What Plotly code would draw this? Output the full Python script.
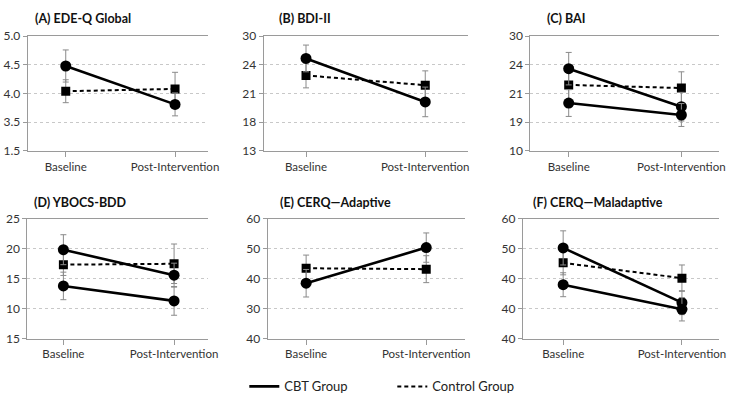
import plotly.graph_objects as go

# ---------------- data ----------------
timepoints = ["Baseline", "Post-Intervention"]

titles = ["(A) EDE-Q Global", "(B) BDI-II", "(C) BAI",
          "(D) YBOCS-BDD", "(E) CERQ\u2014Adaptive", "(F) CERQ\u2014Maladaptive"]

# tick labels as printed (bottom -> top) and the nominal evenly spaced scale they sit on
tick_labels = [
    ["1.5", "3.5", "4.0", "4.5", "5.0"],
    ["13", "18", "21", "24", "30"],
    ["10", "19", "21", "24", "30"],
    ["15", "10", "15", "20", "25"],
    ["40", "30", "40", "50", "60"],
    ["40", "40", "40", "50", "60"],
]
tick_scale = [
    [3.0, 3.5, 4.0, 4.5, 5.0],
    [15, 18, 21, 24, 27],
    [15, 18, 21, 24, 27],
    [5, 10, 15, 20, 25],
    [20, 30, 40, 50, 60],
    [20, 30, 40, 50, 60],
]

# CBT group lines (some panels show two CBT lines)
cbt_means = [
    [[4.48, 3.81]],
    [[24.67, 20.12]],
    [[23.6, 19.62], [20.0, 18.75]],
    [[19.85, 15.6], [13.8, 11.3]],
    [[38.5, 50.4]],
    [[50.3, 32.0], [38.0, 29.8]],
]
cbt_err = [
    [[0.28, 0.20]],
    [[1.40, 1.55]],
    [[1.70, 1.50], [1.40, 1.20]],
    [[2.50, 2.00], [2.30, 2.40]],
    [[4.60, 4.90]],
    [[5.70, 4.00], [4.00, 3.90]],
]
ctrl_means = [
    [4.04, 4.08],
    [22.89, 21.87],
    [21.9, 21.57],
    [17.35, 17.5],
    [43.5, 43.2],
    [45.3, 40.2],
]
ctrl_err = [
    [0.20, 0.29],
    [1.30, 1.50],
    [1.80, 1.70],
    [1.80, 3.30],
    [4.40, 4.50],
    [4.00, 4.40],
]
legend_names = ["CBT Group", "Control Group"]

# ---------------- layout geometry ----------------
x_domains = [(0.0379, 0.2855), (0.3622, 0.6428), (0.7284, 0.9878),
             (0.0375, 0.2855), (0.3677, 0.6383), (0.7181, 0.9878)]
y_domains = [(0.6338, 0.9277)] * 3 + [(0.1523, 0.4593)] * 3
x_ranges = [(-0.349, 1.30), (-0.355, 1.358), (-0.341, 1.335),
            (-0.326, 1.305), (-0.320, 1.320), (-0.340, 1.313)]
title_pos = [(33, 11), (281, 11), (553, 11), (32, 202), (282, 202), (539, 202)]

W, H = 739, 405
FONT = "Lato"
fig = go.Figure()
err_col = "#8a8a8a"
CBT_LINE = dict(color="black", width=2.6)
CTRL_LINE = dict(color="black", width=2, dash="4px,3px")

for i in range(6):
    ax = "" if i == 0 else str(i + 1)
    xa, ya = "x" + ax, "y" + ax
    fig.add_trace(go.Scatter(
        x=timepoints, y=ctrl_means[i], xaxis=xa, yaxis=ya,
        mode="lines+markers", name=legend_names[1], showlegend=False,
        line=CTRL_LINE,
        marker=dict(symbol="square", size=9, color="black"),
        error_y=dict(type="data", array=ctrl_err[i], color=err_col, thickness=1, width=3),
    ))
    for j, (m, e) in enumerate(zip(cbt_means[i], cbt_err[i])):
        fig.add_trace(go.Scatter(
            x=timepoints, y=m, xaxis=xa, yaxis=ya,
            mode="lines+markers", name=legend_names[0], showlegend=False,
            line=CBT_LINE,
            marker=dict(symbol="circle", size=11, color="black"),
            error_y=dict(type="data", array=e, color=err_col, thickness=1, width=3),
        ))
    fig.layout["xaxis" + ax] = dict(
        domain=x_domains[i], anchor=ya, type="category",
        categoryorder="array", categoryarray=timepoints,
        range=list(x_ranges[i]), showline=True, mirror=True, linecolor="#9a9a9a",
        linewidth=1, ticks="outside", ticklen=5, tickcolor="#9a9a9a",
        showgrid=False, zeroline=False,
        tickfont=dict(family=FONT, size=11.5, color="#333333"),
    )
    fig.layout["yaxis" + ax] = dict(
        domain=y_domains[i], anchor=xa, range=[tick_scale[i][0], tick_scale[i][-1]],
        tickmode="array", tickvals=tick_scale[i], ticktext=tick_labels[i],
        showline=True, linecolor="#9a9a9a", linewidth=1,
        ticks="outside", ticklen=4, tickcolor="#9a9a9a",
        showgrid=True, gridcolor="#c8c8c8", griddash="dot", gridwidth=1,
        zeroline=False, tickfont=dict(family=FONT, size=12, color="#333333"),
    )
    tx, ty = title_pos[i]
    fig.add_annotation(
        text="<b>" + titles[i] + "</b>", xref="paper", yref="paper",
        x=tx / W, y=1 - ty / H, xanchor="left", yanchor="middle", showarrow=False,
        font=dict(family=FONT, size=12.5, color="#111111"),
    )

# legend-only entries (line samples without markers)
for name, ln in zip(legend_names, [CBT_LINE, CTRL_LINE]):
    fig.add_trace(go.Scatter(x=[None], y=[None], mode="lines", name=name,
                             line=ln, showlegend=True))

fig.update_layout(
    width=W, height=H, margin=dict(l=0, r=0, t=0, b=0),
    plot_bgcolor="white", paper_bgcolor="white",
    legend=dict(orientation="h", x=248 / W, y=1 - 393 / H, xanchor="left", yanchor="middle",
                entrywidth=103, entrywidthmode="pixels",
                font=dict(family=FONT, size=13, color="#222222"), itemwidth=30),
)

fig.write_html("out.html")
